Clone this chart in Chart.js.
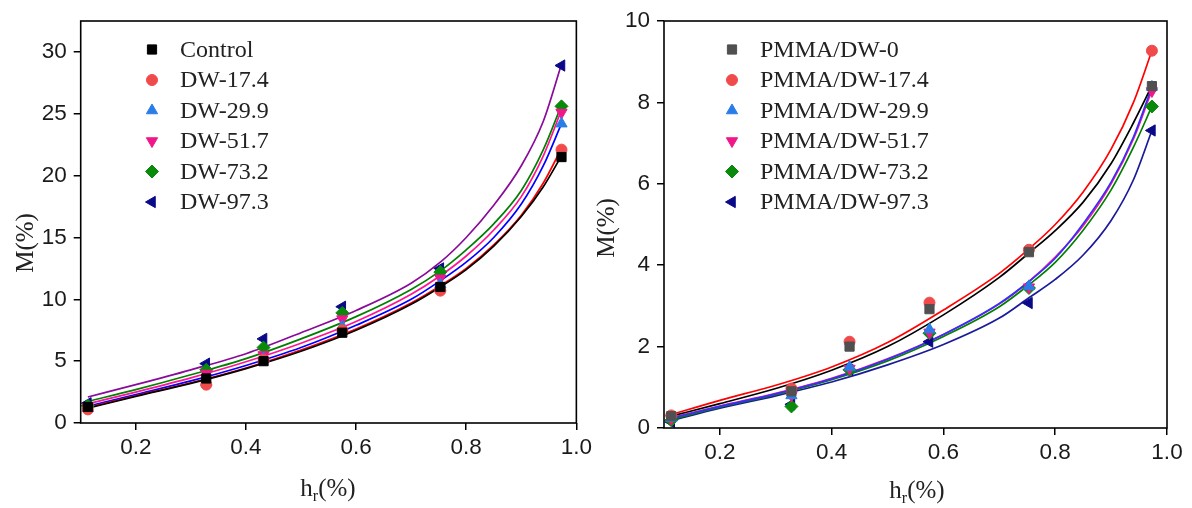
<!DOCTYPE html>
<html lang="en">
<head>
    <meta charset="UTF-8">
    <title>Moisture sorption isotherms</title>
    <script src="https://cdn.jsdelivr.net/npm/chart.js"></script>
    <style>
        html, body { margin: 0; padding: 0; background: #fff; }
        .wrap { display: flex; width: 1192px; height: 508px; }
        .panel { width: 596px; height: 508px; }
        canvas { display: block; }
    </style>
</head>
<body>
    <div class="wrap">
        <div class="panel"><canvas id="leftChart" width="596" height="508"></canvas></div>
        <div class="panel"><canvas id="rightChart" width="596" height="508"></canvas></div>
    </div>

    <script>
        // relative humidity of the six conditioning points
        const hr = [0.113, 0.328, 0.432, 0.575, 0.753, 0.973];
        const fitX = [0.113, 0.2, 0.3, 0.4, 0.5, 0.6, 0.7, 0.753, 0.8, 0.85, 0.9, 0.94, 0.973];
        const xTicks = [0.2, 0.4, 0.6, 0.8, 1.0];

        // left panel - DW series (M %)
        const leftLabels = ["Control", "DW-17.4", "DW-29.9", "DW-51.7", "DW-73.2", "DW-97.3"];
        const leftControl = [1.3, 3.6, 5.0, 7.3, 11.0, 21.5];
        const leftDW174 = [1.1, 3.1, 5.1, 7.5, 10.7, 22.1];
        const leftDW299 = [1.2, 3.3, 5.2, 7.8, 11.2, 24.2];
        const leftDW517 = [1.3, 4.0, 5.5, 8.4, 11.7, 25.1];
        const leftDW732 = [1.4, 4.3, 6.1, 8.9, 12.2, 25.6];
        const leftDW973 = [1.6, 4.8, 6.8, 9.4, 12.5, 28.9];
        // fitted curves, left panel
        const leftFitControl = [1.2, 2.15, 3.2, 4.4, 5.8, 7.5, 9.6, 11.0, 12.4, 14.3, 16.7, 19.1, 21.6];
        const leftFit174 = [1.25, 2.2, 3.25, 4.45, 5.9, 7.6, 9.7, 11.1, 12.5, 14.4, 16.8, 19.4, 22.2];
        const leftFit299 = [1.35, 2.3, 3.4, 4.65, 6.1, 7.9, 10.0, 11.5, 13.0, 15.0, 17.7, 20.8, 24.2];
        const leftFit517 = [1.55, 2.5, 3.65, 4.95, 6.45, 8.2, 10.4, 11.9, 13.5, 15.6, 18.3, 21.6, 25.3];
        const leftFit732 = [1.75, 2.7, 3.9, 5.2, 6.8, 8.6, 10.8, 12.3, 14.0, 16.1, 18.8, 22.1, 25.7];
        const leftFit973 = [2.1, 3.1, 4.3, 5.6, 7.3, 9.1, 11.3, 13.0, 15.0, 17.6, 20.8, 24.4, 29.0];
        const leftYTicks = [0, 5, 10, 15, 20, 25, 30];

        // right panel - PMMA/DW series (M %)
        const rightLabels = ["PMMA/DW-0", "PMMA/DW-17.4", "PMMA/DW-29.9", "PMMA/DW-51.7", "PMMA/DW-73.2", "PMMA/DW-97.3"];
        const pmma0 = [0.29, 0.9, 2.0, 2.92, 4.32, 8.4];
        const pmma174 = [0.31, 0.97, 2.12, 3.08, 4.38, 9.27];
        const pmma299 = [0.24, 0.8, 1.5, 2.42, 3.48, 8.38];
        const pmma517 = [0.23, 0.8, 1.46, 2.35, 3.46, 8.28];
        const pmma732 = [0.19, 0.53, 1.43, 2.33, 3.44, 7.9];
        const pmma973 = [0.15, 0.58, 1.43, 2.12, 3.07, 7.31];
        // fitted curves, right panel
        const rightFit0 = [0.29, 0.6, 0.97, 1.42, 2.0, 2.78, 3.7, 4.3, 4.85, 5.55, 6.5, 7.5, 8.41];
        const rightFit174 = [0.33, 0.68, 1.05, 1.5, 2.1, 2.9, 3.8, 4.4, 5.0, 5.8, 6.85, 8.0, 9.27];
        const rightFit299 = [0.24, 0.53, 0.84, 1.21, 1.69, 2.3, 3.06, 3.6, 4.17, 5.02, 6.04, 7.15, 8.38];
        const rightFit517 = [0.25, 0.54, 0.85, 1.22, 1.7, 2.3, 3.05, 3.6, 4.2, 4.97, 6.0, 7.1, 8.3];
        const rightFit732 = [0.21, 0.51, 0.82, 1.19, 1.65, 2.25, 2.98, 3.52, 4.07, 4.86, 5.85, 6.9, 7.9];
        const rightFit973 = [0.18, 0.49, 0.79, 1.13, 1.55, 2.05, 2.7, 3.2, 3.65, 4.25, 5.1, 6.1, 7.31];
        const rightYTicks = [0, 2, 4, 6, 8, 10];

        // marker styles shared by both panels
        const markerStyles = [
            { style: "rect", rot: 0, r: 6.5 },
            { style: "circle", rot: 0, r: 5.5 },
            { style: "triangle", rot: 0, r: 6.5 },
            { style: "triangle", rot: 180, r: 6.5 },
            { style: "rectRot", rot: 0, r: 6.5 },
            { style: "triangle", rot: 270, r: 6.5 }
        ];
        const leftMarkerColors = ["#000000", "#f04a4a", "#2a7de6", "#f0178a", "#0a8a0a", "#0a0a88"];
        const rightMarkerColors = ["#505050", "#f04a4a", "#2a7de6", "#f0178a", "#0a8a0a", "#0a0a88"];
        const leftLineColors = ["#000000", "#ff0000", "#0000ff", "#ff1493", "#008000", "#8a0a9a"];
        const rightLineColors = ["#000000", "#ff0000", "#3030ff", "#ff1493", "#008000", "#1a1a9a"];

        const pts = (xs, ys) => xs.map((x, i) => ({ x: x, y: ys[i] }));

        function buildDatasets(labels, markers, fits, markerColors, lineColors) {
            const sets = [];
            markers.forEach((ys, i) => {
                const m = markerStyles[i];
                sets.push({
                    label: labels[i],
                    data: pts(hr, ys),
                    showLine: false,
                    pointStyle: m.style,
                    rotation: m.rot,
                    pointRadius: m.r,
                    borderWidth: 1,
                    backgroundColor: markerColors[i],
                    borderColor: markerColors[i]
                });
            });
            fits.forEach((ys, i) => {
                sets.push({
                    label: labels[i] + " fit",
                    data: pts(fitX, ys),
                    showLine: true,
                    pointRadius: 0,
                    borderWidth: 1.7,
                    borderColor: lineColors[i],
                    backgroundColor: lineColors[i],
                    cubicInterpolationMode: "monotone"
                });
            });
            return sets;
        }

        function drawMarker(ctx, m, color, x, y) {
            ctx.save();
            ctx.fillStyle = color;
            ctx.strokeStyle = color;
            ctx.lineWidth = 1;
            Chart.helpers.drawPoint(ctx, { pointStyle: m.style, radius: m.r, rotation: m.rot, borderWidth: 1 }, x, y);
            ctx.restore();
        }

        // frame, legend and axis titles
        const decorPlugin = {
            id: "decor",
            afterDraw(chart, args, opts) {
                const ctx = chart.ctx;
                const a = chart.chartArea;
                ctx.save();
                ctx.strokeStyle = "#000";
                ctx.lineWidth = 1.6;
                ctx.strokeRect(a.left, a.top, a.right - a.left, a.bottom - a.top);

                // legend
                ctx.font = "24px 'Liberation Serif', 'Times New Roman', serif";
                ctx.textBaseline = "middle";
                ctx.textAlign = "left";
                opts.labels.forEach((lab, i) => {
                    const y = opts.legendTop + i * 30.5;
                    drawMarker(ctx, markerStyles[i], opts.markerColors[i], opts.legendMarkerX, y);
                    ctx.fillStyle = "#222";
                    ctx.fillText(lab, opts.legendTextX, y + 1);
                });

                // y title
                ctx.save();
                ctx.translate(opts.yTitleX, opts.yTitleY);
                ctx.rotate(-Math.PI / 2);
                ctx.textAlign = "center";
                ctx.textBaseline = "middle";
                ctx.fillStyle = "#222";
                ctx.font = "25px 'Liberation Serif', 'Times New Roman', serif";
                ctx.fillText("M(%)", 0, 0);
                ctx.restore();

                // x title: h with subscript r
                const big = "25px 'Liberation Serif', 'Times New Roman', serif";
                const small = "16px 'Liberation Serif', 'Times New Roman', serif";
                ctx.fillStyle = "#222";
                ctx.textBaseline = "alphabetic";
                ctx.font = big;
                const wh = ctx.measureText("h").width;
                const wp = ctx.measureText("(%)").width;
                ctx.font = small;
                const wr = ctx.measureText("r").width;
                let x = opts.xTitleX - (wh + wr + wp) / 2;
                const base = opts.xTitleY;
                ctx.font = big;
                ctx.fillText("h", x, base);
                x += wh;
                ctx.font = small;
                ctx.fillText("r", x, base + 5);
                x += wr;
                ctx.font = big;
                ctx.fillText("(%)", x, base);
                ctx.restore();
            }
        };

        function makeChart(id, cfg) {
            const tickFont = { family: "'Liberation Sans', Arial, sans-serif", size: 22.5 };
            return new Chart(document.getElementById(id), {
                type: "scatter",
                data: { datasets: cfg.datasets },
                options: {
                    responsive: false,
                    animation: false,
                    layout: { padding: { left: 0, right: cfg.padRight, top: 21, bottom: 0 } },
                    plugins: {
                        legend: { display: false },
                        tooltip: { enabled: false },
                        decor: cfg.decor
                    },
                    scales: {
                        x: {
                            type: "linear",
                            min: 0.1,
                            max: 1.0,
                            afterBuildTicks: s => { s.ticks = xTicks.map(v => ({ value: v })); },
                            afterFit: s => { s.height = cfg.xHeight; },
                            ticks: { font: tickFont, color: "#1a1a1a", padding: 4, callback: v => v.toFixed(1) },
                            grid: { drawOnChartArea: false, drawTicks: true, tickLength: 7, color: "#000", lineWidth: 1.5 },
                            border: { display: false }
                        },
                        y: {
                            type: "linear",
                            min: 0,
                            max: cfg.yMax,
                            afterBuildTicks: s => { s.ticks = cfg.yTicks.map(v => ({ value: v })); },
                            afterFit: s => { s.width = cfg.yWidth; },
                            ticks: { font: tickFont, color: "#1a1a1a", padding: 7 },
                            grid: { drawOnChartArea: false, drawTicks: true, tickLength: 7, color: "#000", lineWidth: 1.5 },
                            border: { display: false }
                        }
                    }
                },
                plugins: [decorPlugin]
            });
        }

        makeChart("leftChart", {
            datasets: buildDatasets(leftLabels,
                [leftControl, leftDW174, leftDW299, leftDW517, leftDW732, leftDW973],
                [leftFitControl, leftFit174, leftFit299, leftFit517, leftFit732, leftFit973],
                leftMarkerColors, leftLineColors),
            yMax: 32.5,
            yTicks: leftYTicks,
            yWidth: 80.7,
            xHeight: 85,
            padRight: 17,
            decor: {
                labels: leftLabels, markerColors: leftMarkerColors,
                legendTop: 49.5, legendMarkerX: 152, legendTextX: 180,
                yTitleX: 26, yTitleY: 243, xTitleX: 328, xTitleY: 496
            }
        });

        makeChart("rightChart", {
            datasets: buildDatasets(rightLabels,
                [pmma0, pmma174, pmma299, pmma517, pmma732, pmma973],
                [rightFit0, rightFit174, rightFit299, rightFit517, rightFit732, rightFit973],
                rightMarkerColors, rightLineColors),
            yMax: 10,
            yTicks: rightYTicks,
            yWidth: 68,
            xHeight: 80,
            padRight: 25,
            decor: {
                labels: rightLabels, markerColors: rightMarkerColors,
                legendTop: 49.5, legendMarkerX: 136, legendTextX: 164,
                yTitleX: 11, yTitleY: 228, xTitleX: 321, xTitleY: 498
            }
        });
    </script>
</body>
</html>
